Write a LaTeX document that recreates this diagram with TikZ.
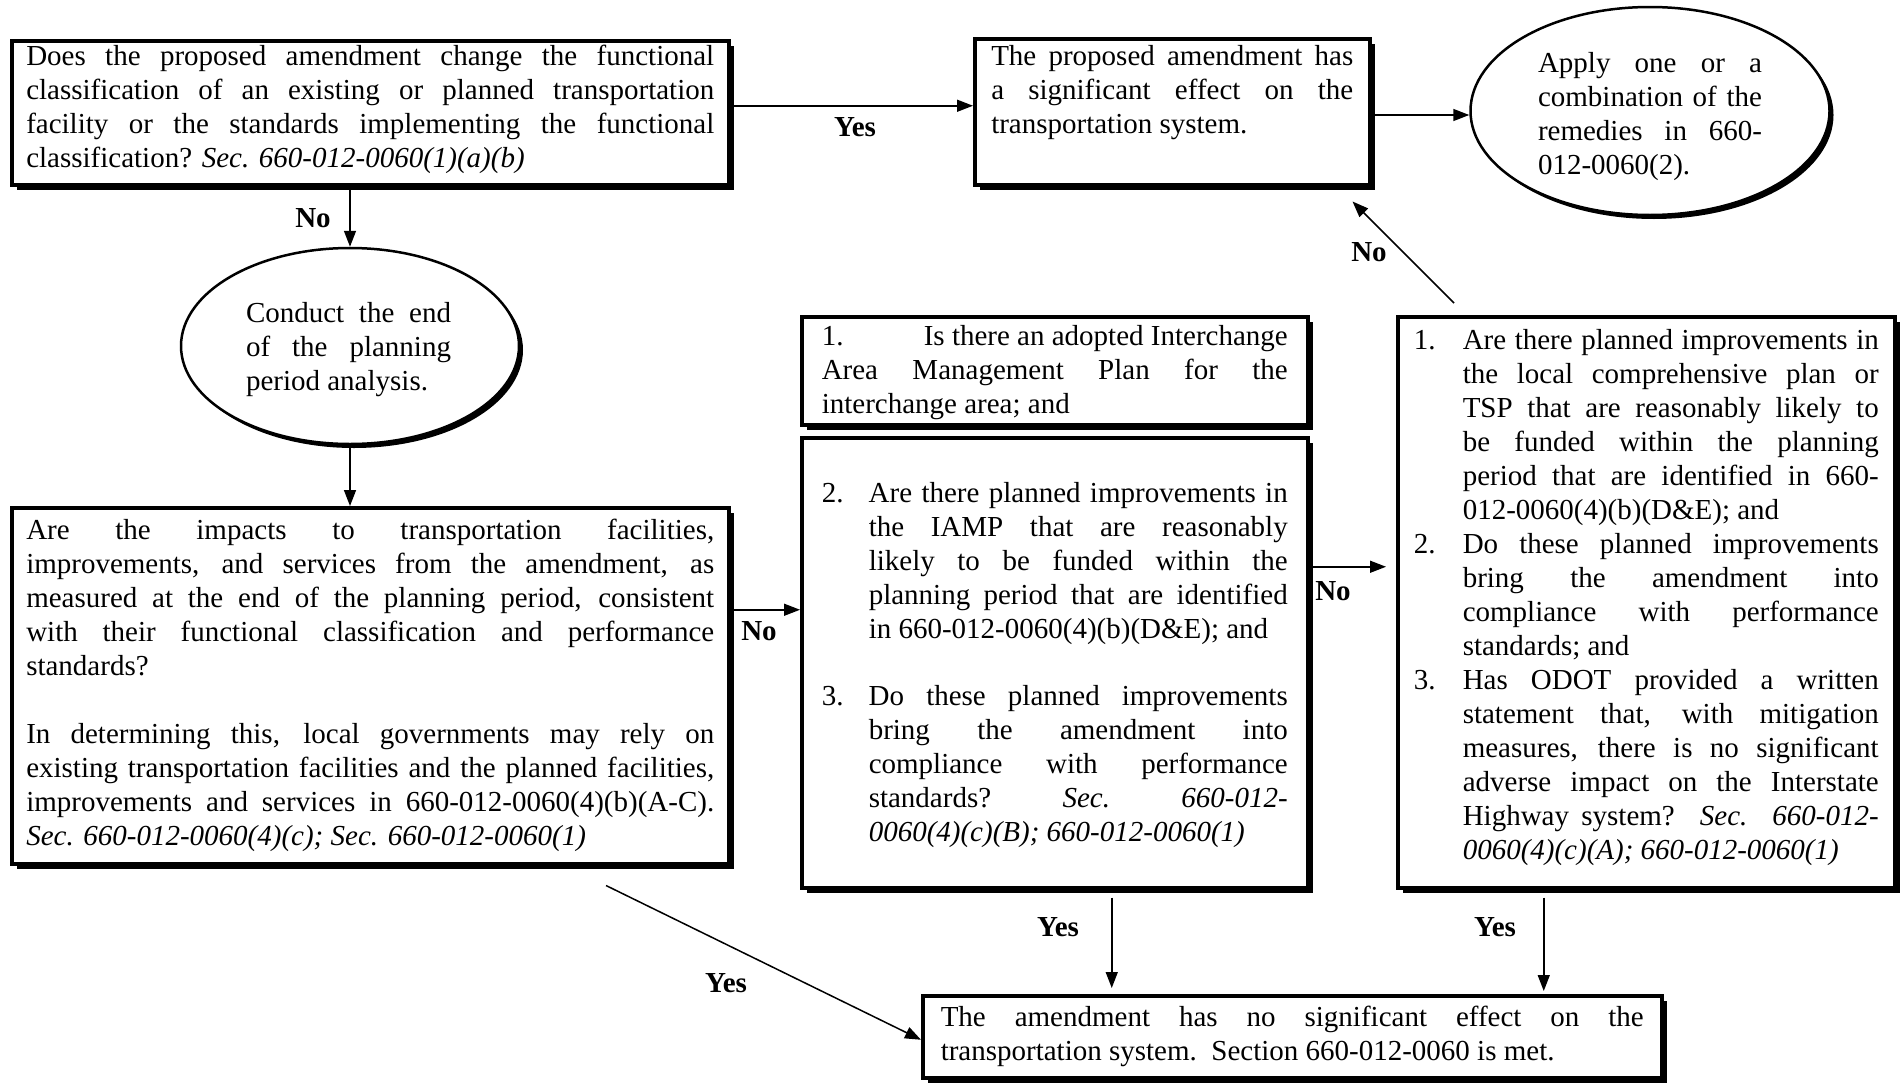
\documentclass[tikz,border=0pt]{standalone}
\usepackage{fontspec}
\setmainfont{Liberation Serif}
\usetikzlibrary{arrows.meta,shapes.geometric,shadows}
\newcommand{\boxtext}[4]{\parbox[c][#2][t]{#1}{\setlength{\parskip}{0pt}\tolerance=10000\hyphenpenalty=10000\rule{0pt}{#3}#4}}
\newcommand{\itm}[2]{\hangindent=#1\hangafter=1\makebox[#1][l]{#2}}
\tikzset{
  box/.style={draw, line width=3.5pt, fill=white, inner ysep=0pt, anchor=north west,
    font=\fontsize{29}{34}\selectfont,
    drop shadow={shadow xshift=5pt, shadow yshift=-5pt, opacity=1, fill=black}},
  ell/.style={draw, ellipse, line width=2.5pt, fill=white, inner sep=0pt,
    drop shadow={shadow xshift=4pt, shadow yshift=-4pt, opacity=1, fill=black}},
  etext/.style={inner sep=0pt, font=\fontsize{29}{34}\selectfont},
  lbl/.style={inner sep=0pt, font=\fontsize{29}{34}\selectfont\bfseries},
  arr/.style={-{Triangle[length=16pt,width=12pt]}, line width=1.5pt},
}
\begin{document}
\begin{tikzpicture}[x=1pt,y=-1pt]
\fill[white] (0,0) rectangle (1900,1084);
\useasboundingbox (0,0) rectangle (1900,1084);

% boxes
\node[box, inner xsep=14.5pt] (box1) at (10,39) {\boxtext{688pt}{144pt}{25pt}{Does the proposed amendment change the functional\linebreak classification of an existing or planned transportation\linebreak facility or the standards implementing the functional\linebreak classification? \textit{Sec. 660-012-0060(1)(a)(b)}}};

\node[box, inner xsep=16.5pt] (box2) at (973,37) {\boxtext{362pt}{146pt}{27pt}{The proposed amendment has\linebreak a significant effect on the\linebreak transportation system.}};

\node[box, inner xsep=14.5pt] (box3) at (10,506) {\boxtext{688pt}{356pt}{32pt}{Are the impacts to transportation facilities,\linebreak improvements, and services from the amendment, as\linebreak measured at the end of the planning period, consistent\linebreak with their functional classification and performance\linebreak standards?\par\vspace{34pt}In determining this, local governments may rely on\linebreak existing transportation facilities and the planned facilities,\linebreak improvements and services in 660-012-0060(4)(b)(A-C).\linebreak \textit{Sec. 660-012-0060(4)(c); Sec. 660-012-0060(1)}}};

\node[box, inner xsep=20pt] (box4a) at (800,315) {\boxtext{466pt}{108pt}{29pt}{1.\hfill Is there an adopted Interchange\linebreak Area Management Plan for the\linebreak interchange area; and}};

\node[box, inner xsep=20pt] (box4b) at (800,436) {\boxtext{466pt}{450pt}{65pt}{\itm{47pt}{2.}Are there planned improvements in\linebreak the IAMP that are reasonably\linebreak likely to be funded within the\linebreak planning period that are identified\linebreak in 660-012-0060(4)(b)(D\&E); and\par\vspace{33pt}\itm{47pt}{3.}Do these planned improvements\linebreak bring the amendment into\linebreak compliance with performance\linebreak standards? \textit{Sec. 660-012-\linebreak 0060(4)(c)(B); 660-012-0060(1)}}};

\node[box, inner xsep=16pt] (box5) at (1396,315) {\boxtext{465pt}{571pt}{32.5pt}{\itm{49pt}{1.}Are there planned improvements in\linebreak the local comprehensive plan or\linebreak TSP that are reasonably likely to\linebreak be funded within the planning\linebreak period that are identified in 660-\linebreak 012-0060(4)(b)(D\&E); and\par\itm{49pt}{2.}Do these planned improvements\linebreak bring the amendment into\linebreak compliance with performance\linebreak standards; and\par\itm{49pt}{3.}Has ODOT provided a written\linebreak statement that, with mitigation\linebreak measures, there is no significant\linebreak adverse impact on the Interstate\linebreak Highway system? \textit{Sec. 660-012-\linebreak 0060(4)(c)(A); 660-012-0060(1)}}};

\node[box, inner xsep=18pt] (box6) at (921,994) {\boxtext{703pt}{82pt}{31pt}{The amendment has no significant effect on the\linebreak transportation system.\ \ Section 660-012-0060 is met.}};

% ellipses
\node[ell, minimum width=359pt, minimum height=208pt] (apply) at (1650,111) {};
\node[etext] (applytxt) at ([yshift=-6pt]apply.center) {\parbox{224pt}{\tolerance=10000 Apply one or a\linebreak combination of the\linebreak remedies in 660-\linebreak 012-0060(2).}};

\node[ell, minimum width=338pt, minimum height=196pt] (conduct) at (350,346) {};
\node[etext] (conducttxt) at ([xshift=-1.5pt,yshift=-4pt]conduct.center) {\parbox{205pt}{\tolerance=10000 Conduct the end\linebreak of the planning\linebreak period analysis.}};

% connectors
\draw[arr] ([yshift=7pt]box1.east) -- ([yshift=7pt]box1.east -| box2.west);
\node[lbl] (yes1) at (855,127) {Yes};

\draw[arr] ([yshift=-4pt]box2.east |- apply.west) -- ([yshift=-4pt]apply.west);

\draw[arr] (box1.south -| conduct.north) -- (conduct.north);
\node[lbl] (no1) at (313,218) {No};

\draw[arr] (conduct.south) -- (conduct.south |- box3.north);

\draw[arr] ([yshift=76pt]box3.east) -- ([yshift=76pt]box3.east -| box4b.west);
\node[lbl] (no2) at (759,631) {No};

\draw[arr, shorten >=10pt] ([yshift=96pt]box4b.east) -- ([yshift=96pt]box4b.east -| box5.west);
\node[lbl] (no3) at (1333,591) {No};

\draw[arr] ([xshift=58pt,yshift=12pt]box5.north west) -- ([xshift=-19pt,yshift=-15pt]box2.south east);
\node[lbl] (no4) at (1369,252) {No};

\draw[arr, shorten <=8pt, shorten >=6pt] ([xshift=57pt]box4b.south) -- ([xshift=57pt]box4b.south |- box6.north);
\node[lbl] (yes2) at (1058,927) {Yes};

\draw[arr, shorten <=8pt, shorten >=3pt] ([xshift=-102.5pt]box5.south) -- ([xshift=-102.5pt]box5.south |- box6.north);
\node[lbl] (yes3) at (1495,927) {Yes};

\draw[arr] ([xshift=596pt,yshift=-20pt]box3.south west) -- ([yshift=-3pt]box6.west);
\node[lbl] (yes4) at (726,983) {Yes};
\end{tikzpicture}
\end{document}
